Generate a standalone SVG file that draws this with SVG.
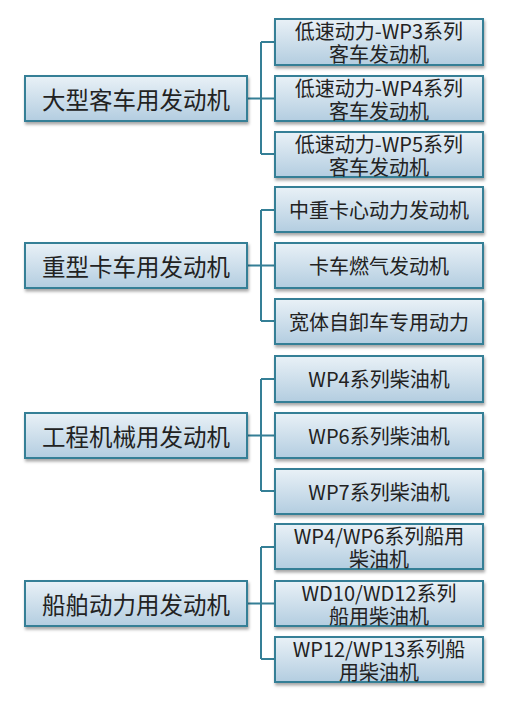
<svg xmlns="http://www.w3.org/2000/svg" width="516" height="710" viewBox="0 0 516 710">
<defs>
<linearGradient id="g" x1="0" y1="0" x2="0" y2="1">
<stop offset="0" stop-color="#e9f1f7"/>
<stop offset="1" stop-color="#b3cde0"/>
</linearGradient>
<filter id="sh" x="-10%" y="-20%" width="125%" height="160%">
<feDropShadow dx="1" dy="2.5" stdDeviation="1.5" flood-color="#000" flood-opacity="0.35"/>
</filter>
<style>
.b{fill:url(#g);stroke:#357f96;stroke-width:2;filter:url(#sh)}
.c{fill:none;stroke:#357f96;stroke-width:2}
.t{font-family:"Microsoft YaHei","Noto Sans CJK SC","Noto Sans",sans-serif;fill:#222;text-anchor:middle}
.p{font-size:23.5px}
.s{font-size:20px}
</style>
</defs>
<rect width="516" height="710" fill="#fff"/>
<g id="connectors">
<path class="c" d="M247 98.5H261M261 42V154M261 42H275M261 98.5H275M261 154H275"/>
<path class="c" d="M247 265.5H261M261 210V321M261 210H275M261 265.5H275M261 321H275"/>
<path class="c" d="M247 435.5H261M261 379V491M261 379H275M261 435.5H275M261 491H275"/>
<path class="c" d="M247 603.5H261M261 547V659M261 547H275M261 603.5H275M261 659H275"/>
</g>
<g id="n1"><rect class="b" x="25" y="76" width="222" height="45"/><text class="t p" x="136" y="108.5">大型客车用发动机</text></g>
<g id="n1a"><rect class="b" x="275" y="19" width="208" height="46"/><text class="t s" x="379" y="39">低速动力-WP3系列<tspan x="379" dy="23">客车发动机</tspan></text></g>
<g id="n1b"><rect class="b" x="275" y="76" width="208" height="45"/><text class="t s" x="379" y="95.5">低速动力-WP4系列<tspan x="379" dy="23">客车发动机</tspan></text></g>
<g id="n1c"><rect class="b" x="275" y="132" width="208" height="45"/><text class="t s" x="379" y="151.5">低速动力-WP5系列<tspan x="379" dy="23">客车发动机</tspan></text></g>
<g id="n2"><rect class="b" x="25" y="243" width="222" height="45"/><text class="t p" x="136" y="275.5">重型卡车用发动机</text></g>
<g id="n2a"><rect class="b" x="275" y="187" width="208" height="45"/><text class="t s" x="379" y="217.5">中重卡心动力发动机</text></g>
<g id="n2b"><rect class="b" x="275" y="243" width="208" height="45"/><text class="t s" x="379" y="273.5">卡车燃气发动机</text></g>
<g id="n2c"><rect class="b" x="275" y="299" width="208" height="45"/><text class="t s" x="379" y="329.5">宽体自卸车专用动力</text></g>
<g id="n3"><rect class="b" x="25" y="413" width="222" height="45"/><text class="t p" x="136" y="445.5">工程机械用发动机</text></g>
<g id="n3a"><rect class="b" x="275" y="356" width="208" height="46"/><text class="t s" x="379" y="386.5">WP4系列柴油机</text></g>
<g id="n3b"><rect class="b" x="275" y="413" width="208" height="45"/><text class="t s" x="379" y="443.5">WP6系列柴油机</text></g>
<g id="n3c"><rect class="b" x="275" y="469" width="208" height="45"/><text class="t s" x="379" y="499.5">WP7系列柴油机</text></g>
<g id="n4"><rect class="b" x="25" y="581" width="222" height="45"/><text class="t p" x="136" y="613.5">船舶动力用发动机</text></g>
<g id="n4a"><rect class="b" x="275" y="524" width="208" height="45"/><text class="t s" x="379" y="543.5">WP4/WP6系列船用<tspan x="379" dy="23">柴油机</tspan></text></g>
<g id="n4b"><rect class="b" x="275" y="581" width="208" height="45"/><text class="t s" x="379" y="600.5">WD10/WD12系列<tspan x="379" dy="23">船用柴油机</tspan></text></g>
<g id="n4c"><rect class="b" x="275" y="637" width="208" height="45"/><text class="t s" x="379" y="656.5">WP12/WP13系列船<tspan x="379" dy="23">用柴油机</tspan></text></g>
</svg>
